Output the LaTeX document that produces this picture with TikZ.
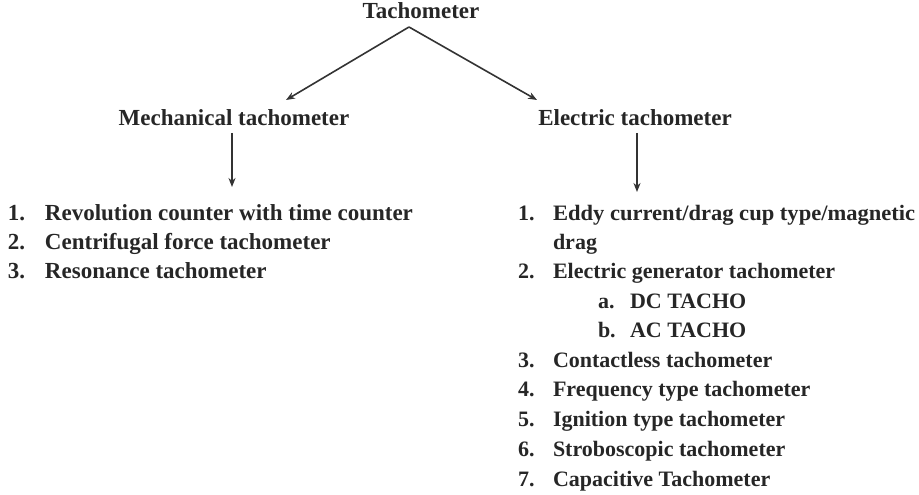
\documentclass[tikz,border=0pt]{standalone}
\usepackage{fontspec}
\setmainfont{Liberation Serif}
\usetikzlibrary{arrows.meta}
\begin{document}
\begin{tikzpicture}[x=1pt,y=1pt,
  every node/.style={inner sep=0pt, outer sep=0pt, text=black!85},
  title/.style={font=\bfseries\fontsize{23}{27}\selectfont},
  itemL/.style={anchor=base west, font=\bfseries\fontsize{23}{27}\selectfont},
  itemR/.style={anchor=base west, font=\bfseries\fontsize{22}{26}\selectfont},
  conn/.style={draw=black!80, line width=1.6pt, -{Stealth[length=9pt,width=7pt]}}]
\useasboundingbox (0,0) rectangle (919,495);
% titles
\node[title] (root) at (421,484) {Tachometer};
\node[title] (mech) at (234,377) {Mechanical tachometer};
\node[title] (elec) at (635,377) {Electric tachometer};
% connector ends
\coordinate (apex) at (409,468);
\coordinate (mechEnd) at (286,395);
\coordinate (elecEnd) at (537,395);
\coordinate (mechTop) at (232,362);
\coordinate (mechBot) at (232,308);
\coordinate (elecTop) at (637,362);
\coordinate (elecBot) at (637,303);
\draw[conn] (apex) -- (mechEnd);
\draw[conn] (apex) -- (elecEnd);
\draw[conn] (mechTop) -- (mechBot);
\draw[conn] (elecTop) -- (elecBot);
% left list
\node[itemL] (l1n) at (8,274) {1.};
\node[itemL] (l1) at (45,274) {Revolution counter with time counter};
\node[itemL] (l2n) at (8,245) {2.};
\node[itemL] (l2) at (45,245) {Centrifugal force tachometer};
\node[itemL] (l3n) at (8,216) {3.};
\node[itemL] (l3) at (45,216) {Resonance tachometer};
% right list
\node[itemR] (r1n) at (518,274) {1.};
\node[itemR, xscale=1.025] (r1) at (553,274) {Eddy current/drag cup type/magnetic};
\node[itemR] (r1b) at (553,245) {drag};
\node[itemR] (r2n) at (518,216) {2.};
\node[itemR] (r2) at (553,216) {Electric generator tachometer};
\node[itemR] (rAn) at (598,186) {a.};
\node[itemR] (rA) at (630,186) {DC TACHO};
\node[itemR] (rBn) at (598,157) {b.};
\node[itemR] (rB) at (630,157) {AC TACHO};
\node[itemR] (r3n) at (518,127) {3.};
\node[itemR] (r3) at (553,127) {Contactless tachometer};
\node[itemR] (r4n) at (518,98) {4.};
\node[itemR] (r4) at (553,98) {Frequency type tachometer};
\node[itemR] (r5n) at (518,68) {5.};
\node[itemR] (r5) at (553,68) {Ignition type tachometer};
\node[itemR] (r6n) at (518,38) {6.};
\node[itemR] (r6) at (553,38) {Stroboscopic tachometer};
\node[itemR] (r7n) at (518,8) {7.};
\node[itemR] (r7) at (553,8) {Capacitive Tachometer};
\end{tikzpicture}
\end{document}
